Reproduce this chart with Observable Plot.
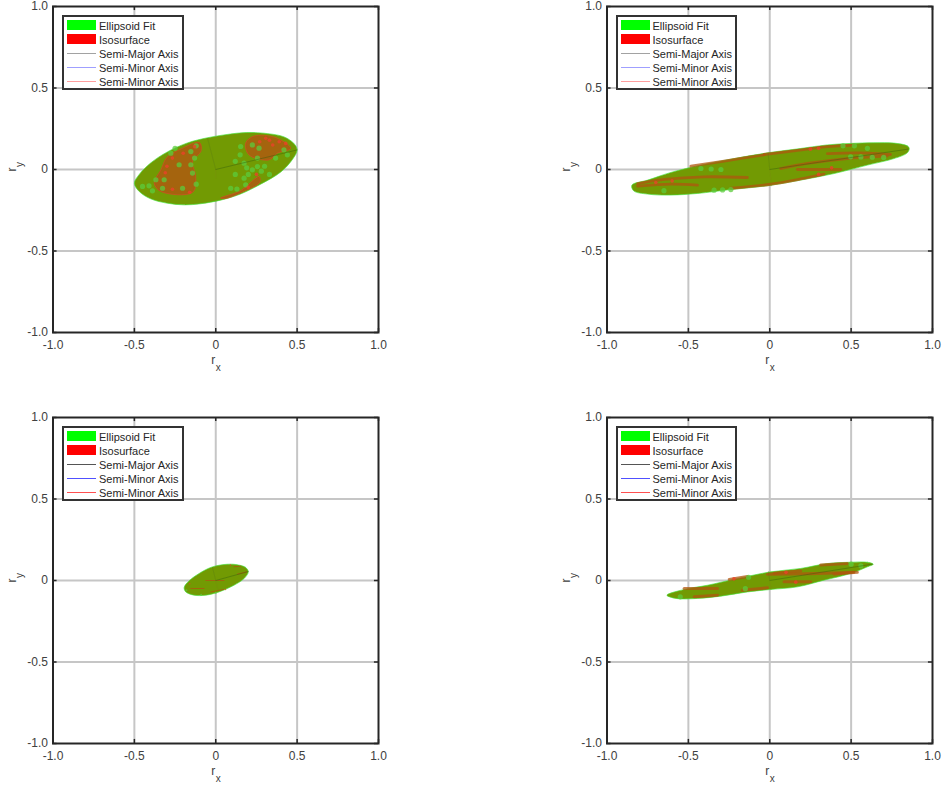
<!DOCTYPE html>
<html><head><meta charset="utf-8">
<script src="https://cdn.jsdelivr.net/npm/d3@7"></script>
<script src="https://cdn.jsdelivr.net/npm/@observablehq/plot@0.6"></script>
<style>
html,body{margin:0;padding:0;background:#fff}
#root{position:relative;width:943px;height:787px;overflow:hidden}
.panel{position:absolute;width:398px;height:392px}
.panel svg{max-width:none}
.panel svg g[aria-label="dot"],.panel svg g[aria-label="line"]{filter:blur(.6px)}
.legend{position:absolute;left:62px;top:15px;width:117.5px;height:71px;border:2px solid #333;background:#fff;font:11px "Liberation Sans",Arial,sans-serif;color:#262626}
.legend .s{position:absolute;left:3px;width:29px;height:10px}
.legend .l{position:absolute;left:3px;width:29px;height:1px}
.legend .t{position:absolute;left:35px;white-space:nowrap;line-height:14px}
</style></head><body><div id="root"></div>
<script>
const tickValues = [-1, -0.5, 0, 0.5, 1];
const gridValues = [-0.5, 0, 0.5];
const legendLabels = ["Ellipsoid Fit", "Isosurface", "Semi-Major Axis", "Semi-Minor Axis", "Semi-Minor Axis"];

// Panel 1
const outline1 = [[.50,.12],[.48,.16],[.42,.20],[.32,.22],[.19,.227],[.07,.215],[-.05,.195],[-.174,.163],[-.297,.108],[-.40,.04],[-.47,-.03],[-.50,-.084],[-.47,-.135],[-.40,-.18],[-.297,-.207],[-.194,-.217],[-.092,-.21],[.03,-.188],[.153,-.15],[.276,-.09],[.40,-.015],[.47,.06]];
const patches1 = [
  [[-.10,.165],[-.215,.125],[-.30,.075],[-.337,-.002],[-.378,-.084],[-.337,-.135],[-.143,-.141],[-.123,-.043],[-.143,.049],[-.09,.115]],
  [[.235,.205],[.37,.195],[.46,.13],[.378,.10],[.327,.059],[.204,.09],[.184,.162]],
  [[.03,-.175],[.153,-.13],[.266,-.043],[.27,-.078],[.16,-.14],[.06,-.178]]
];
const greens1 = [[-.276,.10],[-.225,.029],[-.153,.11],[-.153,.029],[-.143,-.022],[-.317,-.063],[-.368,-.063],[-.327,-.115],[-.204,-.115],[-.389,-.131],[.225,.151],[.266,.131],[.368,.07],[.419,.121],[.256,.07],[.153,.141],[.174,.039],[.225,-.002],[.174,-.053],[.256,.018],[.092,-.115],[.184,-.094],[-.45,-.104],[-.25,.13],[-.12,.145],[.12,.05],[.30,.02],[.33,-.03],[-.41,-.10],[-.12,-.09],[-.13,.07],[.15,.09],[.19,.01],[.28,-.01],[.44,.09],[.12,-.03],[.2,-.03],[.13,-.12]];
const reds1 = [[-.266,.07],[-.266,-.121],[.307,.192],[.27,.17],[.35,.15],[.2,-.11],[-.3,.02],[-.31,-.02],[.43,.16],[.25,-.03],[-.20,.10],[-.13,.14],[-.16,-.14],[.33,.18],[.39,.17]];
const bands1 = [];
const majors1 = [[0,0],[.5,.12]];
const minorsA1 = [[0,0],[-.05,.19]];
const minorsB1 = [[0,0],[0,-.05]];

// Panel 2
const outline2 = [[.857,.129],[.845,.145],[.763,.162],[.64,.164],[.497,.16],[.354,.151],[.19,.129],[-.014,.102],[-.219,.067],[-.423,.027],[-.607,-.018],[-.75,-.065],[-.847,-.096],[-.836,-.131],[-.75,-.151],[-.607,-.157],[-.444,-.147],[-.239,-.123],[-.014,-.10],[.19,-.065],[.395,-.025],[.60,.027],[.763,.067],[.845,.102]];
const patches2 = [];
const bands2 = [
  [[-.035,.092],[.231,.125],[.354,.14],[.517,.15]],
  [[.354,.098],[.558,.102],[.742,.092]],
  [[.067,.006],[.231,.037],[.476,.067],[.722,.082]],
  [[.17,0],[.436,0]],
  [[-.812,-.086],[-.648,-.061],[-.403,-.045],[-.137,-.049]],
  [[-.812,-.102],[-.607,-.09],[-.444,-.096]],
  [[-.239,-.115],[-.006,-.092],[.19,-.058],[.333,-.028]],
  [[-.485,.02],[-.26,.055],[-.035,.09]]
];
const greens2 = [[-.423,.006],[-.36,.003],[-.30,0],[-.342,-.127],[-.29,-.125],[-.239,-.123],[.45,.145],[.52,.145],[.497,.078],[.56,.077],[.63,.075],[.70,.074],[-.65,-.13],[.6,.13]];
const reds2 = [[.25,.125],[.3,.13],[.38,.01],[-.7,-.08],[-.6,-.07],[.3,-.03]];
const majors2 = [[0,0],[.85,.125]];
const minorsA2 = [[0,0],[-.01,.10]];
const minorsB2 = [[0,0],[.01,-.1]];

// Panel 3
const outline3 = [[.20,.053],[.184,.08],[.123,.098],[.051,.098],[-.031,.08],[-.102,.043],[-.164,-.002],[-.194,-.043],[-.184,-.07],[-.133,-.09],[-.061,-.09],[.02,-.07],[.112,-.029],[.174,.012]];
const patches3 = [];
const bands3 = [
  [[-.061,0],[.051,0]],
  [[-.153,-.049],[-.072,-.049]],
  [[-.031,-.07],[.051,-.055]],
  [[.112,.084],[.153,.088]],
  [[.133,.039],[.19,.053]]
];
const greens3 = [[-.18,-.06],[-.09,-.088],[.0,-.075]];
const reds3 = [[.09,.095],[-.16,-.02],[.06,-.055]];
const majors3 = [[0,0],[.2,.055]];
const minorsA3 = [[0,0],[-.02,.08]];
const minorsB3 = [[0,0],[.015,-.06]];

// Panel 4
const outline4 = [[.636,.10],[.60,.112],[.497,.112],[.354,.104],[.19,.074],[.006,.053],[-.198,.012],[-.382,-.029],[-.526,-.055],[-.632,-.09],[-.577,-.11],[-.444,-.11],[-.30,-.096],[-.137,-.07],[.006,-.055],[.17,-.039],[.333,.002],[.497,.043],[.60,.084]];
const patches4 = [];
const bands4 = [
  [[.027,.045],[.19,.058]],
  [[-.014,.039],[.292,.043],[.517,.051]],
  [[-.249,.006],[-.137,.025]],
  [[-.526,-.049],[-.321,-.049]],
  [[-.168,-.06],[-.014,-.045]],
  [[.088,-.008],[.252,-.008]],
  [[.313,.095],[.476,.104]],
  [[-.464,-.10],[-.321,-.09]],
  [[.395,.04],[.538,.05]]
];
const greens4 = [[-.13,.02],[.5,.1],[-.55,-.1],[-.15,-.05],[.56,.09]];
const reds4 = [[.16,-.01],[-.22,.01],[.1,.05]];
const majors4 = [[0,0],[.63,.1]];
const minorsA4 = [[0,0],[-.008,.055]];
const minorsB4 = [[0,0],[.008,-.055]];

const panels = [
  {left:0, top:0, outline:outline1, patches:patches1, bands:bands1, greens:greens1, reds:reds1, major:majors1, minorA:minorsA1, minorB:minorsB1, w:2.6, key:0.55},
  {left:553.5, top:0, outline:outline2, patches:patches2, bands:bands2, greens:greens2, reds:reds2, major:majors2, minorA:minorsA2, minorB:minorsB2, w:2.8, key:0.55},
  {left:0, top:411, outline:outline3, patches:patches3, bands:bands3, greens:greens3, reds:reds3, major:majors3, minorA:minorsA3, minorB:minorsB3, w:1, key:1},
  {left:553.5, top:411, outline:outline4, patches:patches4, bands:bands4, greens:greens4, reds:reds4, major:majors4, minorA:minorsA4, minorB:minorsB4, w:3, key:1}
];

const X = d => d[0], Y = d => d[1];
const fmt = d => d === 0 ? "0" : d.toFixed(1);
const root = document.getElementById("root");

for (const p of panels) {
  const chart = Plot.plot({
    width: 398, height: 392,
    marginLeft: 52.5, marginRight: 20, marginTop: 6, marginBottom: 60,
    style: {fontFamily: '"Liberation Sans",Arial,sans-serif', fontSize: "12px", color: "#404040", background: "transparent"},
    x: {domain: [-1, 1]},
    y: {domain: [-1, 1]},
    marks: [
      Plot.ruleX(gridValues, {stroke: "#c6c6c6", strokeWidth: 2}),
      Plot.ruleY(gridValues, {stroke: "#c6c6c6", strokeWidth: 2}),
      Plot.ruleX(tickValues, {y1: -1, y2: -0.975, stroke: "#262626", strokeWidth: 1.5}),
      Plot.ruleX(tickValues, {y1: 1, y2: 0.975, stroke: "#262626", strokeWidth: 1.5}),
      Plot.ruleY(tickValues, {x1: -1, x2: -0.975, stroke: "#262626", strokeWidth: 1.5}),
      Plot.ruleY(tickValues, {x1: 1, x2: 0.975, stroke: "#262626", strokeWidth: 1.5}),
      Plot.line(p.outline, {x: X, y: Y, curve: "catmull-rom-closed", fill: "#729a03", stroke: "#3fe63a", strokeWidth: 0.9, strokeOpacity: 0.7}),
      ...p.patches.map(q => Plot.line(q, {x: X, y: Y, curve: "catmull-rom-closed", fill: "#a5640e", stroke: "#e0452a", strokeWidth: 1, strokeOpacity: 0.6})),
      ...p.bands.map(q => Plot.line(q, {x: X, y: Y, curve: "catmull-rom", stroke: "#b0560f", strokeWidth: p.w, strokeOpacity: 0.75})),
      Plot.dot(p.greens, {x: X, y: Y, r: Math.min(p.w, 2.6), fill: "#5ccb3c", fillOpacity: 0.75}),
      Plot.dot(p.reds, {x: X, y: Y, r: Math.min(p.w, 2.6) * 0.7, fill: "#ea4229", fillOpacity: 0.8}),
      Plot.line(p.major, {x: X, y: Y, stroke: "#2f5a10", strokeWidth: 0.8, strokeOpacity: 0.5}),
      Plot.line(p.minorA, {x: X, y: Y, stroke: "#5a7a10", strokeWidth: 0.7, strokeOpacity: 0.5}),
      Plot.line(p.minorB, {x: X, y: Y, stroke: "#7a8a10", strokeWidth: 0.7, strokeOpacity: 0.5}),
      Plot.frame({stroke: "#262626", strokeWidth: 2}),
      Plot.axisX(tickValues, {anchor: "bottom", label: null, tickSize: 0, tickPadding: 8, tickFormat: fmt}),
      Plot.axisY(tickValues, {anchor: "left", label: null, tickSize: 0, tickPadding: 5, tickFormat: fmt}),
      Plot.text(["r"], {frameAnchor: "bottom", dy: 31, dx: -2.5, fontSize: 12, fill: "#404040"}),
      Plot.text(["x"], {frameAnchor: "bottom", dy: 38, dx: 2.5, fontSize: 10, fill: "#404040"}),
      Plot.text(["r"], {frameAnchor: "left", dx: -41, dy: 2, rotate: -90, fontSize: 12, fill: "#404040"}),
      Plot.text(["y"], {frameAnchor: "left", dx: -33.5, dy: -2.5, rotate: -90, fontSize: 10, fill: "#404040"})
    ]
  });
  const wrap = document.createElement("div");
  wrap.className = "panel";
  wrap.style.left = p.left + "px";
  wrap.style.top = p.top + "px";
  wrap.appendChild(chart);
  const lg = document.createElement("div");
  lg.className = "legend";
  const lineColors = ["#555555", "#5050ff", "#ff5050"];
  legendLabels.forEach((t, i) => {
    const y = 3 + 14 * i;
    const s = document.createElement("div");
    if (i < 2) {
      s.className = "s"; s.style.top = y + "px";
      s.style.background = i ? "#ff0000" : "#00ff00";
    } else {
      s.className = "l"; s.style.top = (y + 5) + "px";
      s.style.background = lineColors[i - 2];
      s.style.opacity = p.key;
    }
    lg.appendChild(s);
    const e = document.createElement("div");
    e.className = "t"; e.style.top = (y - 1) + "px";
    e.textContent = t;
    lg.appendChild(e);
  });
  wrap.appendChild(lg);
  root.appendChild(wrap);
}
</script></body></html>
